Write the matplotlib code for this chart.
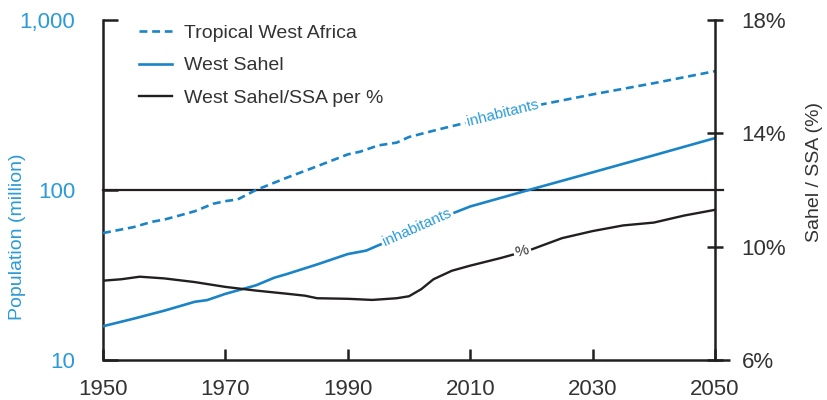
import matplotlib
matplotlib.use("Agg")
import matplotlib.pyplot as plt
from matplotlib import font_manager as fm

names = {f.name for f in fm.fontManager.ttflist}
fam = 'Liberation Sans Narrow' if 'Liberation Sans Narrow' in names else 'Liberation Sans'
plt.rcParams['font.family'] = [fam, 'DejaVu Sans']

# ---- data ----
years_twa = [1950, 1955, 1958, 1960, 1962, 1965, 1968, 1970, 1972, 1975, 1980, 1985, 1990, 1992,
             1995, 1998, 2000, 2005, 2010, 2015, 2020, 2030, 2040, 2050]
tropical_west_africa = [55.8, 60.5, 65, 67, 70, 75, 83, 86, 88, 100, 118, 138, 162, 168,
                        183, 190, 205, 228, 252, 284, 310, 365, 425, 500]

years_ws = [1950, 1955, 1960, 1965, 1967, 1970, 1975, 1978, 1980, 1985, 1990, 1993, 1996,
            2000, 2005, 2010, 2020, 2030, 2040, 2050]
west_sahel = [15.8, 17.5, 19.5, 22, 22.5, 24.5, 27.5, 30.5, 32, 36.5, 42, 44, 49,
              56, 68, 80, 101, 127, 160, 202]

years_pct = [1950, 1953, 1956, 1960, 1965, 1970, 1975, 1980, 1983, 1985, 1990, 1994, 1998,
             2000, 2002, 2004, 2007, 2010, 2015, 2020, 2025, 2030, 2035, 2040, 2045, 2050]
sahel_ssa_pct = [8.8, 8.85, 8.94, 8.88, 8.75, 8.58, 8.45, 8.34, 8.27, 8.18, 8.16, 8.12, 8.18,
                 8.25, 8.5, 8.85, 9.15, 9.33, 9.6, 9.9, 10.3, 10.55, 10.75, 10.85, 11.1, 11.3]

x_ticks = [1950, 1970, 1990, 2010, 2030, 2050]
left_ticks = [10, 100, 1000]
left_labels = ['10', '100', '1,000']
right_ticks = [6, 10, 14, 18]
right_labels = ['6%', '10%', '14%', '18%']

BLUE = '#1a84c7'
TBLUE = '#2b9bd8'
BLACK = '#231f20'
GREY = '#333333'

fig = plt.figure(figsize=(8.28, 4.0), dpi=100)
ax = fig.add_axes([103/828, 40/400, 612/828, 340/400])
ax2 = ax.twinx()

ax.set_yscale('log')
ax.set_xlim(1950, 2050)
ax.set_ylim(10, 1000)
ax2.set_ylim(6, 18)

l1, = ax.plot(years_twa, tropical_west_africa, color=BLUE, lw=1.9, dashes=(3, 1.8),
              label='Tropical West Africa', zorder=3)
l2, = ax.plot(years_ws, west_sahel, color=BLUE, lw=1.9, label='West Sahel', zorder=3)
l3, = ax2.plot(years_pct, sahel_ssa_pct, color=BLACK, lw=1.7, label='West Sahel/SSA per %', zorder=3)

ax.axhline(100, xmin=0, xmax=1.013, color=BLACK, lw=1.6, clip_on=False, zorder=2)

# spines
for s in ['top', 'bottom']:
    ax.spines[s].set_visible(False)
    ax2.spines[s].set_visible(False)
ax.spines['right'].set_visible(False)
ax2.spines['left'].set_visible(False)
ax.spines['left'].set_linewidth(1.8)
ax.spines['left'].set_color(BLACK)
ax2.spines['right'].set_linewidth(1.8)
ax2.spines['right'].set_color(BLACK)
ax.plot([0, 1.025], [0, 0], transform=ax.transAxes, color=BLACK, lw=1.8,
        clip_on=False, zorder=5, solid_capstyle='butt')

ax.set_xticks(x_ticks)
ax.set_xticklabels([str(v) for v in x_ticks])
ax.tick_params(axis='x', direction='in', length=8, width=1.8, color=BLACK, pad=14,
               labelsize=16, labelcolor=GREY)
ax.set_yticks(left_ticks)
ax.set_yticklabels(left_labels)
ax.yaxis.set_minor_locator(matplotlib.ticker.NullLocator())
ax.tick_params(axis='y', direction='in', length=11, width=1.8, color=BLACK, pad=20,
               labelsize=16, labelcolor=TBLUE)
ax2.set_yticks(right_ticks)
ax2.set_yticklabels(right_labels)
ax2.tick_params(axis='y', direction='inout', length=12, width=1.8, color=BLACK, pad=13,
                labelsize=16, labelcolor=GREY)

fig.text(18/828, 1 - 237/400, 'Population (million)', rotation=90, ha='center', va='center',
         fontsize=14, color=TBLUE)
fig.text(815/828, 1 - 172/400, 'Sahel / SSA (%)', rotation=90, ha='center', va='center',
         fontsize=14, color=GREY)

bb = dict(facecolor='white', edgecolor='none', pad=1.5)
ax.text(2015.4, 282, 'inhabitants', rotation=14, ha='center', va='center', fontsize=11,
        color=TBLUE, bbox=bb, zorder=4, rotation_mode='anchor')
ax.text(2001.3, 60.5, 'inhabitants', rotation=24, ha='center', va='center', fontsize=11,
        color=TBLUE, bbox=bb, zorder=4, rotation_mode='anchor')
ax2.text(2018.5, 9.85, '%', rotation=15, ha='center', va='center', fontsize=11,
         color=GREY, bbox=bb, zorder=4, rotation_mode='anchor')

ax.legend(handles=[l1, l2, l3], loc='upper left', bbox_to_anchor=(0.03, 1.038), frameon=False,
          fontsize=14, handlelength=1.7, handletextpad=0.6, labelspacing=0.75,
          labelcolor=GREY)

fig.savefig('out.png', dpi=100)
